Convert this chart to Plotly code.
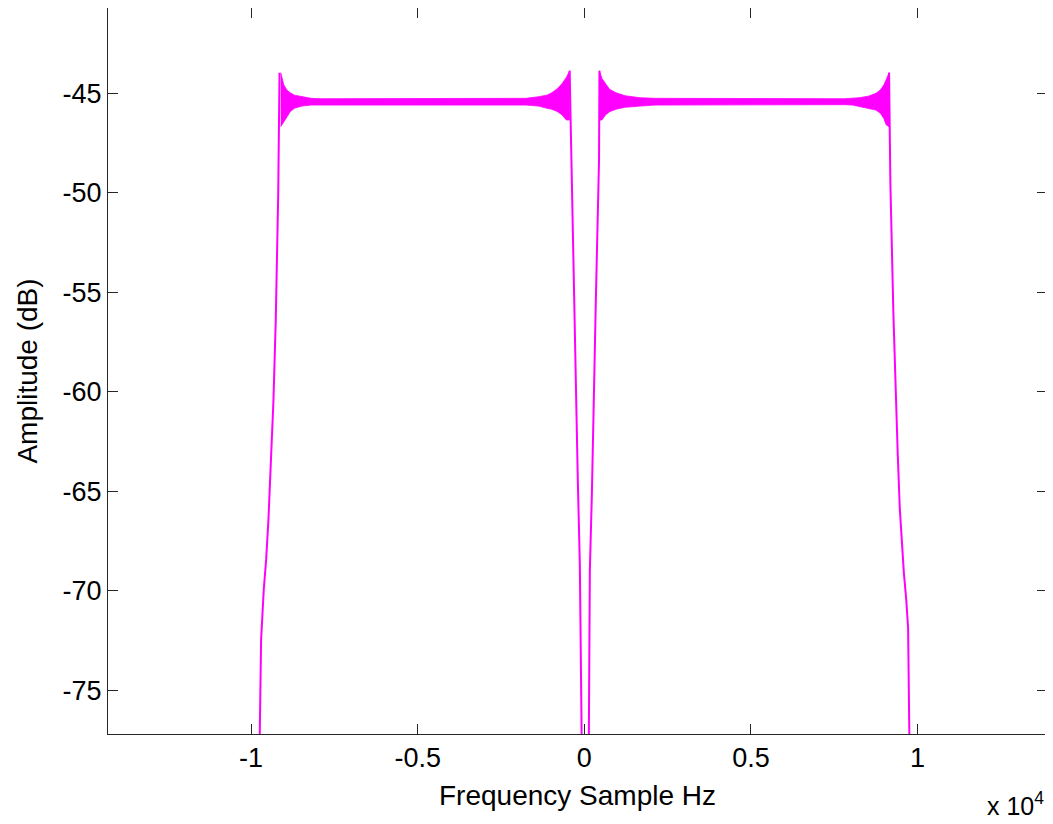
import plotly.graph_objects as go

# ---------------- data ----------------
# Outer-left skirt (Hz, dB), from bottom up to the Gibbs spike
lo_skirt_f = [-9741, -9700, -9621, -9549, -9480, -9405, -9330, -9261, -9186, -9147]
lo_skirt_db = [-77.3, -72.47, -69.96, -68.45, -66.44, -63.76, -60.46, -56.48, -50.06, -43.96]

# Inner-left skirt (from spike down to bottom)
li_skirt_f = [-441, -396, -315, -255, -195, -135, -81]
li_skirt_db = [-43.86, -47.8, -54.97, -60.16, -64.52, -68.7, -77.3]

# Inner-right skirt
ri_skirt_f = [453, 441, 345, 285, 225, 165, 135]
ri_skirt_db = [-43.86, -48.32, -55.39, -61.07, -65.19, -68.96, -77.3]

# Outer-right skirt
ro_skirt_f = [9144, 9183, 9273, 9339, 9405, 9465, 9525, 9588, 9660, 9715, 9753]
ro_skirt_db = [-43.96, -49.5, -56.04, -60.16, -63.18, -65.84, -67.53, -69.1, -70.46, -71.87, -77.3]

# Left passband ripple envelope (upper / lower, dB)
lb_f = [-9111, -9018, -8928, -8826, -8700, -8475, -8202, -7926,
        -1752, -1377, -1125, -975, -801, -666, -540, -441]
lb_up = [-43.96, -44.58, -44.83, -44.97, -45.09, -45.17, -45.25, -45.27,
         -45.25, -45.17, -45.09, -44.97, -44.75, -44.50, -44.20, -43.86]
lb_lo = [-46.68, -46.43, -46.18, -45.92, -45.75, -45.64, -45.59, -45.57,
         -45.59, -45.64, -45.75, -45.80, -45.92, -46.09, -46.34, -46.34]

# Right passband ripple envelope
rb_f = [453, 528, 633, 759, 948, 1224, 1674, 2124,
        7800, 8049, 8250, 8523, 8748, 8883, 8985, 9060, 9144]
rb_up = [-43.86, -44.25, -44.50, -44.80, -44.97, -45.12, -45.22, -45.25,
         -45.27, -45.25, -45.22, -45.14, -45.00, -44.83, -44.58, -44.30, -43.96]
rb_lo = [-46.34, -46.34, -46.09, -45.92, -45.80, -45.70, -45.64, -45.59,
         -45.57, -45.59, -45.67, -45.75, -45.84, -46.00, -46.26, -46.59, -46.68]

x_tickvals = [-10000, -5000, 0, 5000, 10000]
x_ticktext = ["-1", "-0.5", "0", "0.5", "1"]
y_tickvals = [-75, -70, -65, -60, -55, -50, -45]
y_ticktext = ["-75", "-70", "-65", "-60", "-55", "-50", "-45"]

x_range = [-14294, 13883]
y_range = [-77.2, -40.71]

MAG = "#FF00FF"
FONT = "Liberation Sans, Arial, sans-serif"

fig = go.Figure()

for f, up, lo in [(lb_f, lb_up, lb_lo), (rb_f, rb_up, rb_lo)]:
    fig.add_trace(go.Scatter(
        x=f + f[::-1], y=up + lo[::-1], mode="lines", fill="toself",
        fillcolor=MAG, line=dict(color=MAG, width=0.8), hoverinfo="skip",
        showlegend=False))

for f, d in [(lo_skirt_f, lo_skirt_db), (li_skirt_f, li_skirt_db),
             (ri_skirt_f, ri_skirt_db), (ro_skirt_f, ro_skirt_db)]:
    fig.add_trace(go.Scatter(x=f, y=d, mode="lines",
                             line=dict(color=MAG, width=2),
                             showlegend=False))

axis_common = dict(showline=True, linecolor="#262626", linewidth=1,
                   mirror="ticks", ticks="inside", ticklen=10,
                   tickcolor="#262626", tickwidth=1, showgrid=False,
                   zeroline=False, tickfont=dict(family=FONT, size=27,
                                                 color="#000000"))

fig.update_xaxes(range=x_range, tickvals=x_tickvals, ticktext=x_ticktext,
                 title=dict(text="Frequency Sample Hz",
                            font=dict(family=FONT, size=28, color="#000000"),
                            standoff=12),
                 **axis_common)
fig.update_yaxes(range=y_range, tickvals=y_tickvals, ticktext=y_ticktext,
                 title=dict(text="Amplitude (dB)",
                            font=dict(family=FONT, size=28, color="#000000"),
                            standoff=16),
                 **axis_common)

fig.add_annotation(text="x 10<sup>4</sup>", xref="paper", yref="paper",
                   x=0.9985, y=-0.121, xanchor="right", yanchor="bottom",
                   showarrow=False,
                   font=dict(family=FONT, size=25, color="#000000"))

# the page adds an 8 px body margin, so the figure is 8 px smaller than the window
fig.update_layout(width=1045, height=816, autosize=False,
                  margin=dict(l=100, r=6, t=0, b=90, pad=0),
                  plot_bgcolor="white", paper_bgcolor="white")

fig.write_html("out.html")
